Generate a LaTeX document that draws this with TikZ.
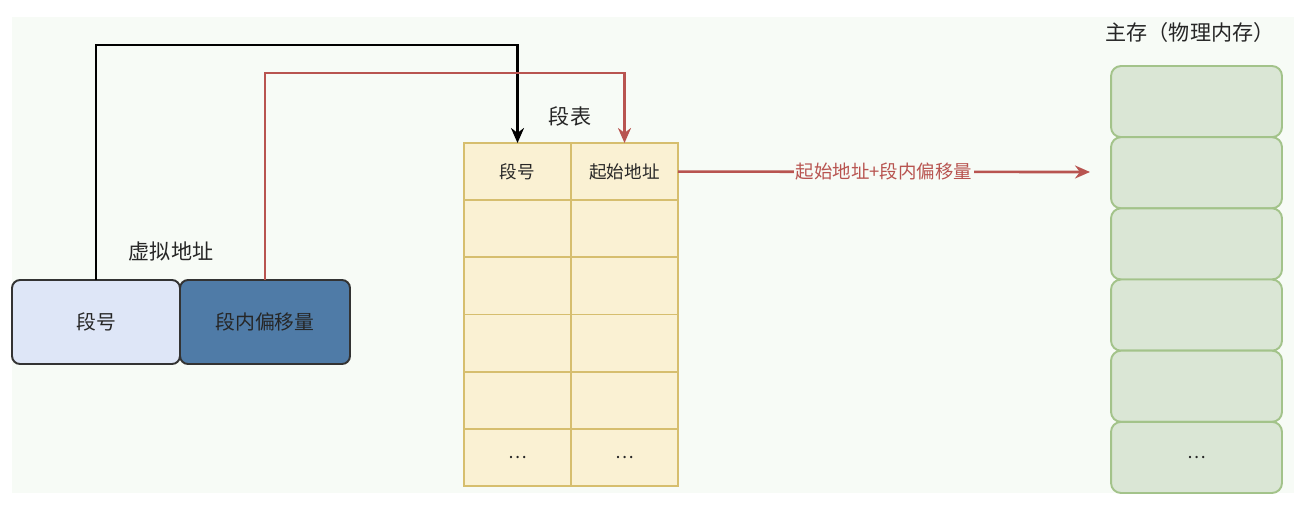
\documentclass[tikz,border=0pt]{standalone}
\usepackage{fontspec}
\setmainfont{Noto Sans CJK SC}
\usetikzlibrary{arrows.meta}

\definecolor{bgc}{HTML}{F7FBF6}
\definecolor{txtc}{HTML}{262626}
\definecolor{segfill}{HTML}{DEE6F7}
\definecolor{offfill}{HTML}{4F7BA7}
\definecolor{boxline}{HTML}{333333}
\definecolor{tabfill}{HTML}{FAF1D3}
\definecolor{tabline}{HTML}{D6BE6E}
\definecolor{memfill}{HTML}{DAE6D5}
\definecolor{memline}{HTML}{A3C38A}
\definecolor{redc}{HTML}{B85450}

\begin{document}
\begin{tikzpicture}[x=0.02cm, y=-0.02cm, line width=1.5pt, text=txtc,
  addrbox/.style={draw=boxline, line width=1.1pt, rounded corners=0.16cm, inner sep=0, outer sep=0,
    minimum height=1.68cm, font=\fontsize{11.3}{13}\selectfont},
  cell/.style={draw=tabline, fill=tabfill, line width=1.1pt, inner sep=0, outer sep=0,
    minimum width=2.14cm, minimum height=1.143cm, font=\fontsize{10}{12}\selectfont},
  memblk/.style={draw=memline, fill=memfill, line width=1.1pt, rounded corners=0.2cm,
    inner sep=0, outer sep=0, minimum width=3.42cm, minimum height=1.423cm},
  title/.style={font=\fontsize{12}{14}\selectfont}]

  \useasboundingbox (0,0) rectangle (1304,511);
  \fill[bgc] (12,17) rectangle (1294,493);

  % 虚拟地址
  \node[addrbox, fill=segfill, minimum width=3.36cm] (seg) at (96,322) {段号};
  \node[addrbox, fill=offfill, minimum width=3.4cm] (off) at (265,322) {段内偏移量};
  \node[title] (vaddr) at (171,251) {虚拟地址};

  % 段表
  \foreach \r/\ta/\tb in {1/段号/起始地址, 2/{}/{}, 3/{}/{}, 4/{}/{}, 5/{}/{}, 6/\dots/\dots} {
    \node[cell] (t\r a) at (517.5,{114.4+57.17*\r}) {\ta};
    \node[cell] (t\r b) at (624.5,{114.4+57.17*\r}) {\tb};
  }
  \node[title] (tabtitle) at (570,116) {段表};

  % 主存
  \foreach \r in {1,...,6}
    \node[memblk] (m\r) at (1196.5,{30.4+71.17*\r}) {};
  \node at (m6) {\dots};
  \node[title] (memtitle) at (1190,32) {主存（物理内存）};

  \coordinate (blkTop) at (96,45);
  \coordinate (redTop) at (265,73);
  \coordinate (memIn) at (1090,172);

  \draw[black, -{Stealth[length=0.3cm, width=0.26cm]}] (seg.north) |- (blkTop) -| (t1a.north);
  \draw[redc, -{Stealth[length=0.3cm, width=0.26cm]}] (off.north) |- (redTop) -| (t1b.north);
  \draw[redc, -{Stealth[length=0.3cm, width=0.26cm]}] (t1b.east) -- (memIn)
    node[midway, fill=bgc, inner sep=1pt, text=redc, font=\fontsize{10.5}{12}\selectfont] {起始地址+段内偏移量};
\end{tikzpicture}
\end{document}
